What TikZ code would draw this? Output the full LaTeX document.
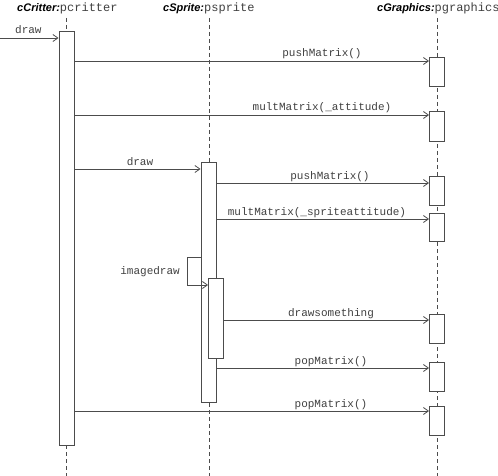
\documentclass[tikz,border=0pt]{standalone}
\usepackage{fontspec}
\setmainfont{Liberation Sans}
\setmonofont{Liberation Mono}
\usetikzlibrary{arrows.meta,calc}
\definecolor{ln}{gray}{0.3}
\definecolor{tx}{gray}{0.25}
\tikzset{
  act/.style={draw=ln, fill=white, line width=0.9pt, minimum width=15pt, inner sep=0pt, anchor=north},
  msg/.style={draw=ln, line width=0.8pt, -{Straight Barb[length=5pt,width=7pt]}},
  life/.style={draw=ln, line width=0.8pt, dash pattern=on 4pt off 3pt},
  lbl/.style={font=\ttfamily\fontsize{11}{13}\selectfont, text=tx, inner sep=0pt, anchor=base},
  hdr/.style={inner sep=0pt, anchor=base west, text=black},
}
\newcommand{\objname}[2]{{\fontsize{11}{13}\selectfont\bfseries\itshape #1}{\color{tx}\ttfamily\fontsize{12}{14}\selectfont #2}}
\begin{document}
\begin{tikzpicture}[x=1pt,y=-1pt]
\useasboundingbox (0,0) rectangle (498,476);
% headers
\node[hdr] (hc) at (17,12) {\objname{cCritter:}{pcritter}};
\node[hdr] (hs) at (163,12) {\objname{cSprite:}{psprite}};
\node[hdr] (hg) at (377,12) {\objname{cGraphics:}{pgraphics}};
% lifelines
\coordinate (lc0) at (66,18); \coordinate (lc1) at (66,476);
\coordinate (ls0) at (209,18); \coordinate (ls1) at (209,476);
\coordinate (lg0) at (437,18); \coordinate (lg1) at (437,476);
\draw[life] (lc0) -- (lc1);
\draw[life] (ls0) -- (ls1);
\draw[life] (lg0) -- (lg1);
% activation boxes
\node[act, minimum height=414pt] (A) at (66.5,31) {};
\node[act, minimum height=240pt] (S) at (208.5,162) {};
\node[act, minimum height=80pt] (N) at (216,278) {};
\node[act, minimum height=29pt] (G1) at (437,57) {};
\node[act, minimum height=30pt] (G2) at (437,111) {};
\node[act, minimum height=29pt] (G3) at (437,176) {};
\node[act, minimum height=28pt] (G4) at (437,213) {};
\node[act, minimum height=29pt] (G5) at (437,314) {};
\node[act, minimum height=29pt] (G6) at (437,362) {};
\node[act, minimum height=29pt] (G7) at (437,406) {};
% message heights
\coordinate (m0) at (0,38);
\coordinate (m1) at (0,61);
\coordinate (m2) at (0,115);
\coordinate (m3) at (0,169);
\coordinate (m4) at (0,183);
\coordinate (m5) at (0,219);
\coordinate (m6) at (0,320);
\coordinate (m7) at (0,368);
\coordinate (m8) at (0,411);
% messages
\draw[msg] (m0) -- (A.west |- m0);
\node[lbl, anchor=base west] at (15,34) {draw};
\draw[msg] (A.east |- m1) -- (G1.west |- m1);
\node[lbl] at (322,57) {pushMatrix()};
\draw[msg] (A.east |- m2) -- (G2.west |- m2);
\node[lbl] at (322,111) {multMatrix(\_attitude)};
\draw[msg] (A.east |- m3) -- (S.west |- m3);
\node[lbl] at (140,165) {draw};
\draw[msg] (S.east |- m4) -- (G3.west |- m4);
\node[lbl] at (330,179) {pushMatrix()};
\draw[msg] (S.east |- m5) -- (G4.west |- m5);
\node[lbl] at (317,215) {multMatrix(\_spriteattitude)};
% self call
\coordinate (i0) at (187,257);
\coordinate (i1) at (187,285);
\draw[msg] (S.west |- i0) -- (i0) -- (i1) -- (N.west |- i1);
\node[lbl, anchor=east] at (180,272) {imagedraw};
\draw[msg] (N.east |- m6) -- (G5.west |- m6);
\node[lbl] at (331,316) {drawsomething};
\draw[msg] (S.east |- m7) -- (G6.west |- m7);
\node[lbl] at (331,364) {popMatrix()};
\draw[msg] (A.east |- m8) -- (G7.west |- m8);
\node[lbl] at (331,407) {popMatrix()};
\end{tikzpicture}
\end{document}
